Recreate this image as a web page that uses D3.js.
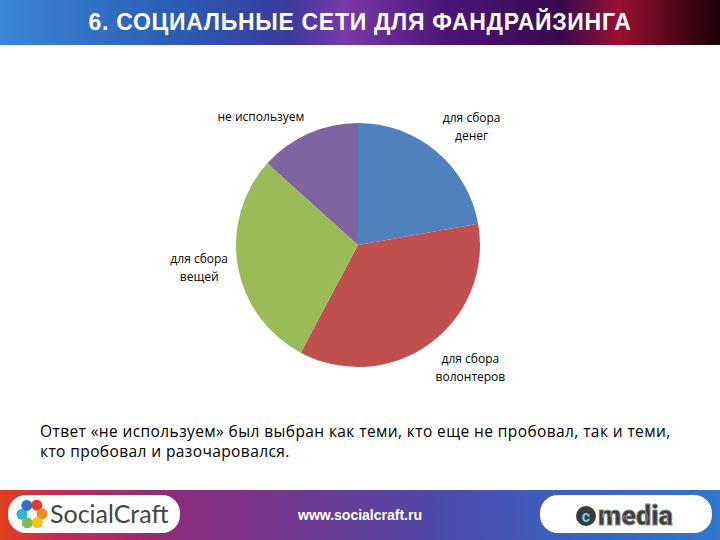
<!DOCTYPE html>
<html>
<head>
<meta charset="utf-8">
<script src="https://cdn.jsdelivr.net/npm/d3@7"></script>
<style>
  body { margin: 0; background: #fff; }
  svg { display: block; }
</style>
</head>
<body>
<div id="chart"></div>
<script>
// slice data (clockwise from 12 o'clock)
var categories = ["для сбора денег", "для сбора волонтеров", "для сбора вещей", "не используем"];
var values = [10, 16, 13, 6];
var colors = ["#4F81BD", "#C0504D", "#9BBB59", "#8064A2"];
var labelLines = [["для сбора", "денег"], ["для сбора", "волонтеров"], ["для сбора", "вещей"], ["не используем"]];

var title = "6. СОЦИАЛЬНЫЕ СЕТИ ДЛЯ ФАНДРАЙЗИНГА";
var noteLines = [
    "Ответ «не используем» был выбран как теми, кто еще не пробовал, так и теми,",
    "кто пробовал и разочаровался."
];

var width = 720, height = 540;
var cx = 358, cy = 245, radius = 122;

var svg = d3.select("#chart").append("svg")
    .attr("width", width)
    .attr("height", height);

var defs = svg.append("defs");

// header gradient
var hg = defs.append("linearGradient").attr("id", "headGrad");
[["0%", "#3b86d6"], ["25%", "#2b5cb4"], ["40%", "#3a3a9c"], ["48%", "#7a3aa8"],
 ["62%", "#4c1478"], ["78%", "#3a0a50"], ["86%", "#9a1030"], ["100%", "#1a0008"]]
    .forEach(function(s) { hg.append("stop").attr("offset", s[0]).attr("stop-color", s[1]); });

// footer gradient
var fg = defs.append("linearGradient").attr("id", "footGrad");
[["0%", "#e2401c"], ["8%", "#c42a56"], ["25%", "#8a2c7c"], ["45%", "#6a3c96"],
 ["60%", "#5048a8"], ["80%", "#3a62c0"], ["100%", "#2f78cc"]]
    .forEach(function(s) { fg.append("stop").attr("offset", s[0]).attr("stop-color", s[1]); });

svg.append("rect")
    .attr("x", 0).attr("y", 0)
    .attr("width", width).attr("height", 45)
    .attr("fill", "url(#headGrad)");

svg.append("text")
    .attr("x", 360).attr("y", 30)
    .attr("text-anchor", "middle")
    .style("font-family", "'Liberation Sans', Arial, sans-serif")
    .style("font-size", "23px")
    .style("font-weight", "bold")
    .style("letter-spacing", "0.7px")
    .style("fill", "#fff")
    .text(title);

// pie
var pie = d3.pie().sort(null).value(function(d) { return d; });
var arc = d3.arc().innerRadius(0).outerRadius(radius);
var arcs = pie(values);

var g = svg.append("g")
    .attr("transform", "translate(" + cx + "," + cy + ")");

g.selectAll("path")
    .data(arcs)
    .join("path")
    .attr("d", arc)
    .attr("fill", function(d, i) { return colors[i]; });

// labels outside, box touching a point just beyond the rim
var lineH = 18;
var labelG = g.append("g")
    .style("font-family", "'Open Sans', sans-serif")
    .style("font-size", "12px")
    .style("fill", "#000");

arcs.forEach(function(d, i) {
    var a = (d.startAngle + d.endAngle) / 2;
    var px = (radius + 10) * Math.sin(a);
    var py = -(radius + 8) * Math.cos(a);
    var lines = labelLines[i];

    var t = labelG.append("text").attr("text-anchor", "middle");
    lines.forEach(function(l, j) {
        t.append("tspan").attr("x", 0).attr("dy", j == 0 ? 0 : lineH).text(l);
    });
    var w = 0;
    t.selectAll("tspan").each(function() { w = Math.max(w, this.getComputedTextLength()); });
    var h = lines.length * lineH;

    var bx, by;
    if (Math.sin(a) >= 0) { bx = px; } else { bx = px - w; }
    if (Math.cos(a) > 0.3) { by = py - h; }
    else if (Math.cos(a) < -0.3) { by = py; }
    else { by = py - h / 2; }

    t.attr("transform", "translate(" + (bx + w / 2) + "," + (by + lineH / 2 + 4) + ")");
});

// note
var note = svg.append("text")
    .style("font-family", "'Open Sans', sans-serif")
    .style("font-size", "15.5px")
    .style("letter-spacing", "0.4px")
    .style("fill", "#000");
noteLines.forEach(function(l, j) {
    note.append("tspan").attr("x", 40).attr("y", 437 + j * 20).text(l);
});

// footer
svg.append("rect")
    .attr("x", 0).attr("y", 490)
    .attr("width", width).attr("height", 50)
    .attr("fill", "url(#footGrad)");

svg.append("rect")
    .attr("x", 8).attr("y", 495)
    .attr("width", 172).attr("height", 38)
    .attr("rx", 18)
    .attr("fill", "#fff");

// SocialCraft ring icon
var iconColors = ["#e8382c", "#f28a1c", "#f6c21a", "#7cc04a", "#2bb7d8", "#2f6fd0"];
var icon = svg.append("g").attr("transform", "translate(32,514)");
iconColors.forEach(function(c, i) {
    var ang = -Math.PI / 2 + i * Math.PI / 3 + 0.5;
    icon.append("circle")
        .attr("cx", 10 * Math.cos(ang))
        .attr("cy", 10 * Math.sin(ang))
        .attr("r", 5.5)
        .attr("fill", c);
});

svg.append("text")
    .attr("x", 50).attr("y", 523)
    .style("font-family", "Lato, sans-serif")
    .style("font-size", "25px")
    .style("fill", "#444")
    .text("SocialCraft");

svg.append("text")
    .attr("x", 360).attr("y", 520)
    .attr("text-anchor", "middle")
    .style("font-family", "'Liberation Sans', Arial, sans-serif")
    .style("font-size", "14px")
    .style("font-weight", "bold")
    .style("fill", "#fff")
    .text("www.socialcraft.ru");

svg.append("rect")
    .attr("x", 540).attr("y", 495)
    .attr("width", 172).attr("height", 38)
    .attr("rx", 18)
    .attr("fill", "#fff");

svg.append("circle")
    .attr("cx", 586).attr("cy", 516)
    .attr("r", 10)
    .attr("fill", "#3a3a3a");
svg.append("text")
    .attr("x", 586).attr("y", 522)
    .attr("text-anchor", "middle")
    .style("font-family", "Roboto, sans-serif")
    .style("font-size", "16px")
    .style("font-weight", "bold")
    .style("fill", "#6fd0f0")
    .text("c");
svg.append("text")
    .attr("x", 598).attr("y", 525)
    .style("font-family", "Roboto, sans-serif")
    .style("font-size", "27px")
    .style("font-weight", "900")
    .style("fill", "#3d3d3d")
    .style("stroke", "#8a8a8a")
    .style("stroke-width", "0.8px")
    .text("media");
</script>
</body>
</html>
